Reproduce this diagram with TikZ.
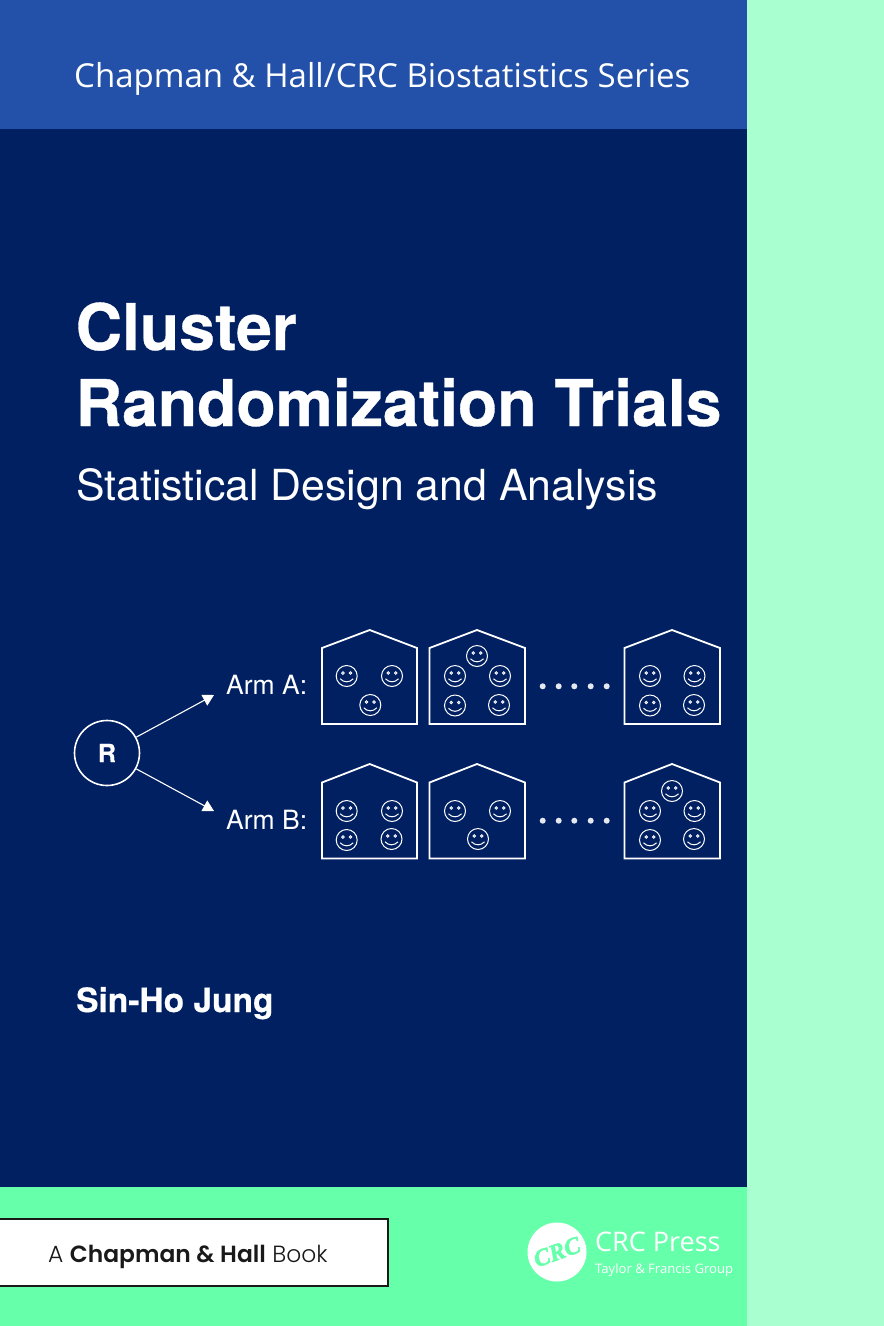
\documentclass[tikz,border=0pt]{standalone}
\usepackage{fontspec}
\setmainfont{TeX Gyre Heros}[BoldFeatures={FakeBold=0.5}]
\newfontfamily\seriesfont{Open Sans}
\newfontfamily\logofont{Poppins}[UprightFont=* Light,BoldFont=* SemiBold]
\newfontfamily\crcfont{Liberation Serif}[BoldItalicFeatures={FakeBold=2}]
\usetikzlibrary{arrows.meta}
\definecolor{navy}{RGB}{0,32,98}
\definecolor{band}{RGB}{35,80,168}
\definecolor{mint}{RGB}{102,255,170}
\definecolor{palemint}{RGB}{170,255,208}
\newcommand{\fsize}[1]{\fontsize{#1}{#1}\selectfont}
\tikzset{
  x=1pt, y=-1pt,
  txt/.style={anchor=base west, inner sep=0pt, text=white},
  housewall/.style={draw=white, line width=1.8pt, line join=miter},
  arrowline/.style={draw=white, line width=1.1pt, -{Triangle[length=11pt,width=12pt]}},
  dotnode/.style={circle, fill=white!90!navy, inner sep=0pt, minimum size=6pt},
  pics/smiley/.style={code={
    \draw[white, line width=1pt] (0,0) circle (10.5);
    \draw[white, line width=0.7pt, fill=navy!40!white] (-3.8,-3) circle (1.4) (3.8,-3) circle (1.4);
    \draw[white, line width=1pt] (-6.5,2.8) .. controls (-3,6.8) and (3,6.8) .. (6.5,2.8);
  }}
}
\begin{document}
\begin{tikzpicture}
\useasboundingbox (0,0) rectangle (884,1326);

% Background panels
\fill[palemint] (747,0) rectangle (884,1326);
\fill[band] (0,0) rectangle (747,129);
\fill[navy] (0,129) rectangle (747,1187);
\fill[mint] (0,1187) rectangle (747,1326);

% Titles
\node (series) at (74,87) [txt, font=\seriesfont\fsize{33}] {Chapman \& Hall/CRC Biostatistics Series};
\node (title1) at (75.5,350) [txt, font=\bfseries\fsize{64.3}] {Cluster};
\node (title2) at (75.5,426) [txt, font=\bfseries\fsize{64.3}] {Randomization Trials};
\node (subtitle) at (76,500) [txt, font=\fsize{42.8}] {Statistical Design and Analysis};
\node (author) at (76,1012) [txt, font=\bfseries\fsize{33.5}] {Sin-Ho Jung};

% Randomization
\node (R) at (107,753) [circle, draw=white, line width=1.6pt, minimum size=65pt, inner sep=0pt, text=white, font=\bfseries\fsize{25}] {R};
\coordinate (tipA) at (214,695);
\coordinate (tipB) at (214,811);
\draw[arrowline] (R) -- (tipA);
\draw[arrowline] (R) -- (tipB);
\node (armA) at (226,694) [txt, font=\fsize{26.5}] {Arm A:};
\node (armB) at (226,829) [txt, font=\fsize{26.5}] {Arm B:};

% Arm A clusters
\draw[housewall] (322,648) -- (369.7,630) -- (417,648) -- (417,724) -- (322,724) -- cycle;
\pic at (346.7,676) {smiley};
\pic at (392,676) {smiley};
\pic at (370.3,705) {smiley};

\draw[housewall] (429.5,648) -- (477,630) -- (525,648) -- (525,724) -- (429.5,724) -- cycle;
\pic at (477,656) {smiley};
\pic at (455,676) {smiley};
\pic at (500,676) {smiley};
\pic at (455,705.5) {smiley};
\pic at (499,705) {smiley};

\draw[housewall] (624.5,648) -- (672,630) -- (720,648) -- (720,724) -- (624.5,724) -- cycle;
\pic at (650,676) {smiley};
\pic at (694.5,676) {smiley};
\pic at (650,705.5) {smiley};
\pic at (694,705) {smiley};

% Arm B clusters
\draw[housewall] (322,782.5) -- (369.7,764) -- (417,782.5) -- (417,858.5) -- (322,858.5) -- cycle;
\pic at (346.7,811) {smiley};
\pic at (392,811) {smiley};
\pic at (346.7,840) {smiley};
\pic at (391.5,839) {smiley};

\draw[housewall] (429.5,782.5) -- (477,764) -- (525,782.5) -- (525,858.5) -- (429.5,858.5) -- cycle;
\pic at (455,811) {smiley};
\pic at (500,811) {smiley};
\pic at (478,839) {smiley};

\draw[housewall] (624.5,782.5) -- (672,764) -- (720,782.5) -- (720,858.5) -- (624.5,858.5) -- cycle;
\pic at (672,791) {smiley};
\pic at (650,811) {smiley};
\pic at (694.5,811) {smiley};
\pic at (650,840) {smiley};
\pic at (694,839) {smiley};

% Dots between clusters
\foreach \px [count=\i] in {542.7,558.7,574.3,590.7,606.7} {
  \node (dotA\i) at (\px,686.3) [dotnode] {};
  \node (dotB\i) at (\px,820.7) [dotnode] {};
}

% Imprint box
\draw[draw=black!90, fill=white, line width=2pt] (-5,1219) rectangle (388,1285.5);
\node (imprint) at (48,1262) [txt, text=black!90, font=\logofont\fsize{23.4}] {A \textbf{Chapman \& Hall} Book};

% Publisher logo
\node (logo) at (557,1252) [circle, fill=white, minimum size=59pt, inner sep=0pt] {};
\node (logotext) at (557,1252) [rotate=20, inner sep=0pt, text=mint, font=\crcfont\bfseries\itshape\fsize{24}] {CRC};
\node (press) at (595,1251) [txt, font=\seriesfont\fsize{27}] {CRC Press};
\node (group) at (595,1273) [txt, font=\seriesfont\fsize{13.1}] {Taylor \& Francis Group};

\end{tikzpicture}
\end{document}
